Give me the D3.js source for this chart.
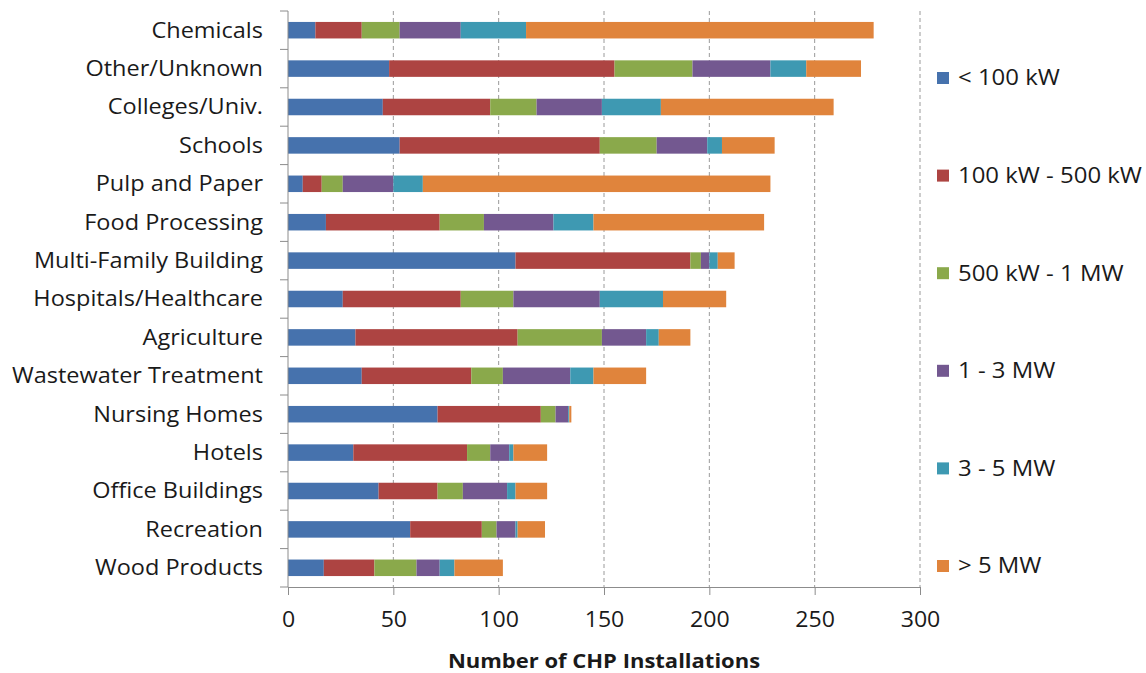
<!DOCTYPE html>
<html><head><meta charset="utf-8">
<script src="https://cdn.jsdelivr.net/npm/d3@7"></script>
<style>body{margin:0;background:#fff}svg{display:block}text{font-family:"Open Sans",sans-serif;fill:#1a1a1a}</style>
</head><body><svg id="c" width="1146" height="673"></svg>
<script>
const categories = ["Chemicals","Other/Unknown","Colleges/Univ.","Schools","Pulp and Paper","Food Processing","Multi-Family Building","Hospitals/Healthcare","Agriculture","Wastewater Treatment","Nursing Homes","Hotels","Office Buildings","Recreation","Wood Products"];
const seriesNames = ["< 100 kW","100 kW - 500 kW","500 kW - 1 MW","1 - 3 MW","3 - 5 MW","> 5 MW"];
const lt100kW    = [13, 48, 45, 53, 7, 18, 108, 26, 32, 35, 71, 31, 43, 58, 17];
const kW100to500 = [22, 107, 51, 95, 9, 54, 83, 56, 77, 52, 49, 54, 28, 34, 24];
const kW500to1MW = [18, 37, 22, 27, 10, 21, 5, 25, 40, 15, 7, 11, 12, 7, 20];
const MW1to3     = [29, 37, 31, 24, 24, 33, 4, 41, 21, 32, 6, 9, 21, 9, 11];
const MW3to5     = [31, 17, 28, 7, 14, 19, 4, 30, 6, 11, 0.5, 2, 4, 1, 7];
const gt5MW      = [165, 26, 82, 25, 165, 81, 8, 30, 15, 25, 1, 16, 15, 13, 23];
const xTicks = [0, 50, 100, 150, 200, 250, 300];
const colors = ["#4672ad","#ad4442","#8aa94b","#735890","#3e99b2","#e0843c"];

const series = [lt100kW, kW100to500, kW500to1MW, MW1to3, MW3to5, gt5MW];
const rows = categories.map((c,i)=>{const o={cat:c}; seriesNames.forEach((s,j)=>o[s]=series[j][i]); return o;});
const stacked = d3.stack().keys(seriesNames)(rows);

const svg = d3.select("#c");
const L=288, R=920, T=11, B=587;
const x = d3.scaleLinear().domain([0,300]).range([L,R]);
const y = d3.scaleBand().domain(categories).range([T,B]).paddingInner(0.57).paddingOuter(0.285);

// gridlines
svg.append("g").selectAll("line").data(xTicks.filter(d=>d>0)).join("line")
  .attr("x1",d=>x(d)).attr("x2",d=>x(d)).attr("y1",T).attr("y2",B)
  .attr("stroke","#9a9a9a").attr("stroke-width",1).attr("stroke-dasharray","4,3");

// bars
svg.append("g").selectAll("g").data(stacked).join("g").attr("fill",(d,i)=>colors[i])
  .selectAll("rect").data(d=>d).join("rect")
  .attr("x",d=>x(d[0])).attr("width",d=>Math.max(0,x(d[1])-x(d[0])))
  .attr("y",d=>y(d.data.cat)).attr("height",y.bandwidth());

// y axis
const yBounds = d3.range(categories.length+1).map(i=>T+i*(B-T)/categories.length);
const ya = svg.append("g");
ya.append("line").attr("x1",L).attr("x2",L).attr("y1",T).attr("y2",B).attr("stroke","#8c8c8c");
ya.selectAll("line.t").data(yBounds).join("line").attr("class","t")
  .attr("x1",L-8).attr("x2",L).attr("y1",d=>d).attr("y2",d=>d).attr("stroke","#8c8c8c");
ya.selectAll("text").data(categories).join("text")
  .attr("transform",d=>`translate(${L-25},${y(d)+y.bandwidth()/2}) scale(1.12,1)`)
  .attr("dy","0.35em").attr("text-anchor","end").attr("font-size",21).text(d=>d);

// x axis
const xa = svg.append("g").attr("transform",`translate(0,${B})`)
  .call(d3.axisBottom(x).tickValues(xTicks).tickSize(8).tickPadding(17).tickSizeOuter(0));
xa.select(".domain").attr("stroke","#8c8c8c");
xa.selectAll(".tick line").attr("stroke","#8c8c8c");
xa.selectAll(".tick text").attr("font-size",21).attr("font-family","'Open Sans',sans-serif").attr("fill","#1a1a1a")
  .attr("transform","scale(1.1,1)");

svg.append("text").attr("transform",`translate(${(L+R)/2},668) scale(1.1,1)`).attr("text-anchor","middle")
  .attr("font-size",20).attr("font-weight","bold").text("Number of CHP Installations");

// legend
const leg = svg.append("g");
const ly = d3.scalePoint().domain(seriesNames).range([78,566]);
seriesNames.forEach((s,i)=>{
  leg.append("rect").attr("x",937).attr("y",ly(s)-6).attr("width",12).attr("height",12).attr("fill",colors[i]);
  leg.append("text").attr("transform",`translate(958,${ly(s)}) scale(1.14,1)`).attr("dy","0.35em").attr("font-size",21).text(s);
});
</script></body></html>
